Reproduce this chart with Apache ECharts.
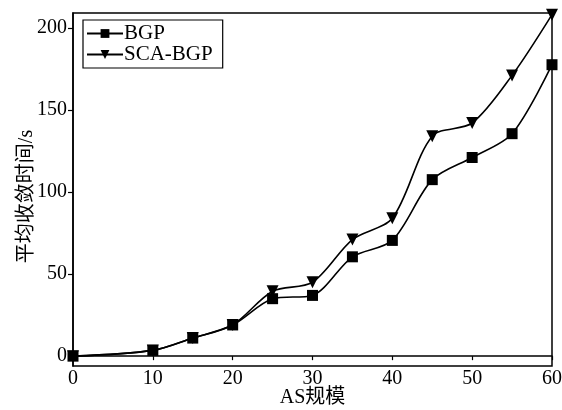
<!DOCTYPE html>
<html>
<head>
<meta charset="utf-8">
<script src="https://cdn.jsdelivr.net/npm/echarts@6/dist/echarts.min.js"></script>
<style>html,body{margin:0;padding:0;background:#fff}#c{width:562px;height:410px}</style>
</head>
<body>
<div id="c"></div>
<script>
var xValues = [0, 10, 15, 20, 25, 30, 35, 40, 45, 50, 55, 60];
var bgpValues = [0, 3.5, 11, 19, 35, 37, 60.5, 70.5, 107.5, 121, 135.5, 177.5];
var scaValues = [0, 3.5, 11, 19, 39.5, 45, 71, 84, 134, 142, 171, 208];
var yTicks = [0, 50, 100, 150, 200];
var xTicks = [0, 10, 20, 30, 40, 50, 60];
var seriesNames = ['BGP', 'SCA-BGP'];

function pairs(xs, ys) { return xs.map(function (x, i) { return [x, ys[i]]; }); }

var font = '"Liberation Serif", "Noto Sans CJK SC", serif';
var chart = echarts.init(document.getElementById('c'), null, {renderer: 'canvas'});
chart.setOption({
  animation: false,
  backgroundColor: '#fff',
  grid: {left: 73, right: 10, top: 13, bottom: 44, containLabel: false, outerBoundsMode: 'none',
         show: true, borderColor: '#000', borderWidth: 1.5, backgroundColor: 'transparent'},
  legend: {
    left: 83, top: 20, orient: 'vertical',
    data: [seriesNames[0], seriesNames[1]],
    borderColor: '#000', borderWidth: 1.2, padding: [3, 10, 3, 3],
    itemWidth: 36, itemHeight: 11, itemGap: 0,
    textStyle: {fontFamily: font, fontSize: 21, color: '#000', padding: [0, 0, 0, -4]}
  },
  xAxis: {
    type: 'value', min: 0, max: 60, interval: 10,
    name: 'AS规模', nameLocation: 'middle', nameGap: 22, nameMoveOverlap: false,
    nameTextStyle: {fontFamily: font, fontSize: 20, color: '#000'},
    axisLine: {lineStyle: {color: '#000', width: 1.5}},
    axisTick: {show: true, length: 4, lineStyle: {color: '#000', width: 1.2}, customValues: xTicks},
    axisLabel: {fontFamily: font, fontSize: 20, color: '#000', margin: 3, customValues: xTicks},
    splitLine: {show: false}
  },
  yAxis: {
    type: 'value', min: -6, max: 209,
    name: '平均收敛时间/s', nameLocation: 'middle', nameGap: 36, nameMoveOverlap: false,
    nameTextStyle: {fontFamily: font, fontSize: 20, color: '#000', padding: [0, 14, 0, 0]},
    axisLine: {show: true, lineStyle: {color: '#000', width: 1.5}},
    axisTick: {show: true, length: 5, lineStyle: {color: '#000', width: 1.2}, customValues: yTicks},
    axisLabel: {fontFamily: font, fontSize: 20, color: '#000', margin: 6, customValues: yTicks},
    splitLine: {show: false}
  },
  series: [
    {
      name: seriesNames[1], type: 'line', data: pairs(xValues, scaValues),
      smooth: 0.3, symbol: 'triangle', symbolRotate: 180, symbolSize: 12,
      showAllSymbol: true,
      lineStyle: {color: '#000', width: 1.6}, itemStyle: {color: '#000', borderWidth: 0}
    },
    {
      name: seriesNames[0], type: 'line', data: pairs(xValues, bgpValues),
      smooth: 0.3, symbol: 'rect', symbolSize: 11,
      showAllSymbol: true,
      lineStyle: {color: '#000', width: 1.6}, itemStyle: {color: '#000', borderWidth: 0}
    }
  ]
});
</script>
</body>
</html>
